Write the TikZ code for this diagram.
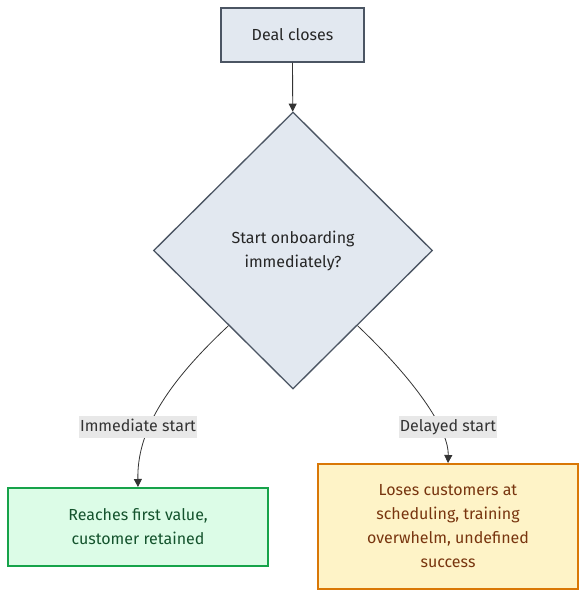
\documentclass[tikz,border=0pt]{standalone}
\usepackage{fontspec}
\setmainfont{Fira Sans}
\usetikzlibrary{shapes.geometric,arrows.meta,calc}
\definecolor{slatefill}{HTML}{E2E8F0}
\definecolor{slateline}{HTML}{4B5563}
\definecolor{greenfill}{HTML}{DCFCE7}
\definecolor{greenline}{HTML}{16A34A}
\definecolor{greentext}{HTML}{14532D}
\definecolor{yellowfill}{HTML}{FEF3C7}
\definecolor{yellowline}{HTML}{D97706}
\definecolor{yellowtext}{HTML}{78350F}
\definecolor{labelbg}{HTML}{E8E8E8}
\definecolor{edgecol}{HTML}{333333}
\tikzset{
  px/.style={x=0.75pt,y=-0.75pt},
  basefont/.style={font=\fontsize{12}{18}\selectfont, align=center},
  slatebox/.style={basefont, draw=slateline, fill=slatefill, line width=1pt, text=black!85, inner sep=0pt},
  greenbox/.style={basefont, draw=greenline, fill=greenfill, line width=1.5pt, text=greentext, inner sep=0pt},
  yellowbox/.style={basefont, draw=yellowline, fill=yellowfill, line width=1.5pt, text=yellowtext, inner sep=0pt},
  edgelabel/.style={basefont, fill=labelbg, text=black!80, inner xsep=1pt, inner ysep=2pt, text height=9pt, text depth=3pt},
  conn/.style={draw=edgecol, line width=0.6pt, -{Triangle[length=6pt,width=6pt]}},
}
\begin{document}
\begin{tikzpicture}[px]
\useasboundingbox (0,0) rectangle (586,598);
\node[slatebox, minimum width=107.25pt, minimum height=40.5pt] (deal) at (292.5,35) {Deal closes};
\node[slatebox, shape=diamond, aspect=1, minimum width=209.25pt, minimum height=207.75pt] (dec) at (293,250.5) {Start onboarding\\ immediately?};
\node[greenbox, minimum width=195pt, minimum height=58.5pt] (good) at (138,527) {Reaches first value,\\customer retained};
\node[yellowbox, minimum width=195pt, minimum height=93.75pt] (bad) at (448,526.5) {Loses customers at\\scheduling, training\\overwhelm, undefined\\success};
\coordinate (ls) at ($(dec.west)!0.54!(dec.south)$);
\coordinate (rs) at ($(dec.east)!0.54!(dec.south)$);
\draw[conn] (deal) -- (dec);
\draw[conn] (ls) .. controls (165,385) and (137,432) .. (good.north);
\draw[conn] (rs) .. controls (420,385) and (449,432) .. (bad.north);
\node[edgelabel] (l1) at (138,427) {Immediate start};
\node[edgelabel] (l2) at (448,427) {Delayed start};
\end{tikzpicture}
\end{document}
